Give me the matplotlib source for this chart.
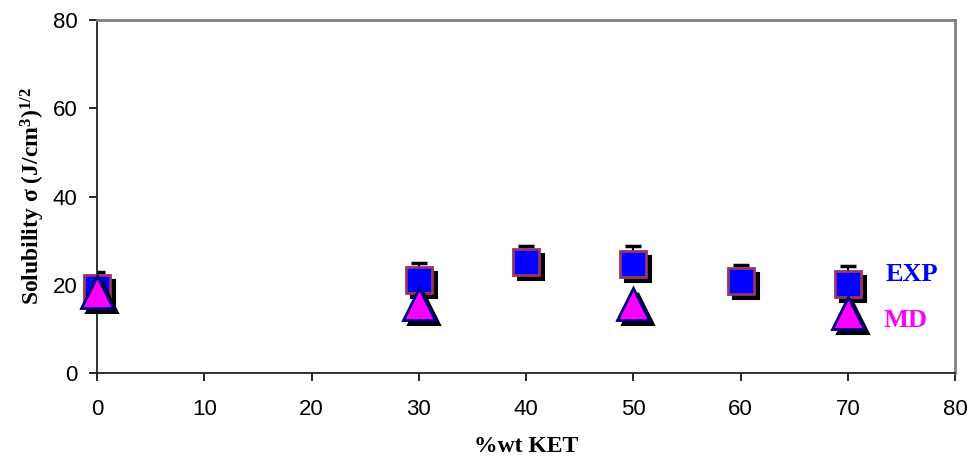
import matplotlib
matplotlib.use("Agg")
import matplotlib.pyplot as plt
import matplotlib.transforms as mtransforms

plt.rcParams['font.family'] = ['Liberation Sans', 'DejaVu Sans']
plt.rcParams['mathtext.fontset'] = 'custom'
plt.rcParams['mathtext.rm'] = 'Liberation Serif:bold'
plt.rcParams['mathtext.it'] = 'Liberation Serif:bold'
plt.rcParams['mathtext.bf'] = 'Liberation Serif:bold'

# experimental solubility parameter and upper error
exp_x = [0, 30, 40, 50, 60, 70]
exp_y = [19.3, 21.1, 25.2, 24.7, 20.9, 20.2]
exp_err = [3.6, 3.8, 3.6, 4.1, 3.6, 4.1]

# molecular dynamics values
md_x = [0, 30, 50, 70]
md_y = [18.4, 15.6, 15.6, 13.6]

x_ticks = [0, 10, 20, 30, 40, 50, 60, 70, 80]
y_ticks = [0, 20, 40, 60, 80]

fig = plt.figure(figsize=(9.69, 4.61), dpi=100)
ax = fig.add_axes([0.1001, 0.1909, 0.8855, 0.7657])

shadow = mtransforms.offset_copy(ax.transData, fig=fig, x=5, y=-5, units='dots')

# upper error bars only
err_top = [y + e for y, e in zip(exp_y, exp_err)]
ax.vlines(exp_x, exp_y, err_top, colors='black', linewidth=1.5, zorder=2)
ax.plot(exp_x, err_top, '_', ms=12, mew=2.5, color='black', zorder=2)

# drop shadows
ax.plot(exp_x, exp_y, 's', ms=18.5, mfc='black', mec='black', mew=1.5,
        transform=shadow, clip_on=False, zorder=3)
ax.plot(md_x, md_y, '^', ms=23, mfc='black', mec='black', mew=1.5,
        transform=shadow, clip_on=False, zorder=5)

ax.plot(exp_x, exp_y, 's', ms=18.5, mfc='#0000FF', mec='#993366', mew=2,
        clip_on=False, zorder=4)
ax.plot(md_x, md_y, '^', ms=23, mfc='#FF00FF', mec='#000080', mew=2,
        clip_on=False, zorder=6)

ax.text(73.5, 22.4, 'EXP', color='#0000FF', fontsize=19, fontweight='bold',
        family='Liberation Serif', va='center', ha='left')
ax.text(73.3, 12.0, 'MD', color='#FF00FF', fontsize=19, fontweight='bold',
        family='Liberation Serif', va='center', ha='left')

ax.set_xlim(0, 80)
ax.set_ylim(0, 80)
ax.set_xticks(x_ticks)
ax.set_yticks(y_ticks)
ax.tick_params(direction='out', length=6, width=1.2, labelsize=16, pad=8)
ax.tick_params(axis='x', pad=13)

for side in ['left', 'bottom']:
    ax.spines[side].set_color('#222222')
    ax.spines[side].set_linewidth(1.3)
for side in ['top', 'right']:
    ax.spines[side].set_color('#808080')
    ax.spines[side].set_linewidth(2)

ax.set_xlabel('%wt KET', fontsize=17, fontweight='bold', family='Liberation Serif',
              labelpad=11)
ax.set_ylabel(r'Solubility σ (J/cm$^{3}$)$^{1/2}$', fontsize=17, fontweight='bold',
              family='Liberation Serif', labelpad=4)

fig.savefig('out.png', dpi=100)
